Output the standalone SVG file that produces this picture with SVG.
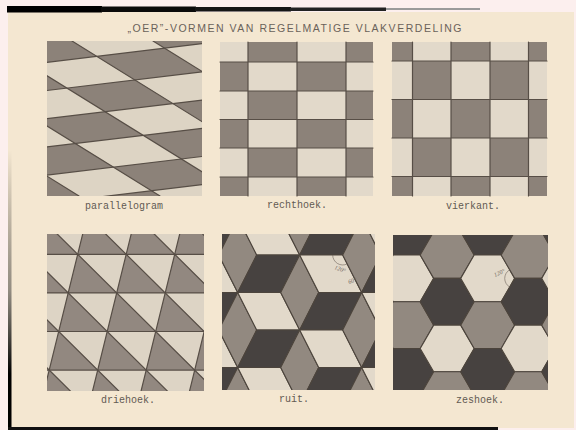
<svg xmlns="http://www.w3.org/2000/svg" width="576" height="430" viewBox="0 0 576 430">
<defs>
<style>
.lt{fill:#e2d9ca}
.md{fill:#928980}
.dk{fill:#474240}
.ln{stroke:#574e46;stroke-width:1.2;fill:none;stroke-linecap:round}
.edges{stroke:#4c443c;stroke-width:1.1;stroke-linejoin:round}
.lbl{font-family:"Liberation Mono","DejaVu Sans Mono",monospace;font-size:10px;fill:#625a53;text-anchor:middle}
.ttl{font-family:"Liberation Sans",Arial,sans-serif;font-size:10.5px;fill:#6a625a;text-anchor:middle}
.note{font-family:"Liberation Serif",serif;font-style:italic;font-size:6px;fill:#6d635a}
.arc{fill:none;stroke:#6d635a;stroke-width:0.6}
</style>
<linearGradient id="lg" x1="0" y1="0" x2="0" y2="1">
<stop offset="0" stop-color="#000" stop-opacity="0"/>
<stop offset="0.5" stop-color="#333" stop-opacity="0.5"/>
<stop offset="0.8" stop-color="#000" stop-opacity="1"/>
</linearGradient>
<clipPath id="c1"><rect x="47" y="41" width="155" height="155"/></clipPath>
<clipPath id="c4"><rect x="47" y="234" width="157" height="157"/></clipPath>
<clipPath id="c5"><rect x="222" y="234" width="153" height="156"/></clipPath>
<clipPath id="c6"><rect x="393" y="235" width="155" height="155"/></clipPath>
<pattern id="p1" patternUnits="userSpaceOnUse" width="2" height="2" patternTransform="matrix(67.86 -8.14 38.1 23.62 -9.24 40.85)">
<rect width="2" height="2" fill="#ddd4c4"/>
<rect width="1" height="1" fill="#8c8279"/>
<rect x="1" y="1" width="1" height="1" fill="#8c8279"/>
</pattern>
<g id="cube">
<polygon class="dk" points="-21.5,-37.5 21.5,-37.5 2.5,0 -40.5,0"/>
<polygon class="lt" points="-40.5,0 2.5,0 21.5,37.5 -21.5,37.5"/>
<polygon class="md" points="21.5,-37.5 40.5,0 21.5,37.5 2.5,0"/>
</g>
<polygon id="hx" points="-27,0 -13.5,-23.35 13.5,-23.35 27,0 13.5,23.35 -13.5,23.35"/>
</defs>

<rect width="576" height="430" fill="#fcefee"/>
<rect x="8" y="12" width="566" height="416" fill="#f4e7d1"/>
<rect x="7" y="6" width="95" height="6.5" fill="#000"/>
<rect x="101" y="6.5" width="95" height="5.5" fill="#0a0a0a"/>
<rect x="195" y="7" width="96" height="4.5" fill="#151515"/>
<rect x="290" y="7.5" width="96" height="3.5" fill="#222"/>
<rect x="386" y="8" width="94" height="2" fill="#9a9a9a"/>
<rect x="8" y="150" width="3.5" height="280" fill="url(#lg)"/>
<rect x="8" y="427" width="490" height="3" fill="#111"/>

<text class="ttl" x="294.5" y="32" textLength="334" lengthAdjust="spacing">„OER”-VORMEN VAN REGELMATIGE VLAKVERDELING</text>

<g id="parallelogram">
<g clip-path="url(#c1)">
<rect x="47" y="41" width="155" height="155" fill="url(#p1)"/>
<g class="ln">
<line x1="40" y1="63.14" x2="210" y2="42.74"/>
<line x1="40" y1="91.34" x2="210" y2="70.94"/>
<line x1="40" y1="119.54" x2="210" y2="99.14"/>
<line x1="40" y1="147.74" x2="210" y2="127.34"/>
<line x1="40" y1="175.94" x2="210" y2="155.54"/>
<line x1="40" y1="204.14" x2="210" y2="183.74"/>
<line x1="-171" y1="41" x2="79" y2="196"/>
<line x1="-90" y1="41" x2="160" y2="196"/>
<line x1="-9" y1="41" x2="241" y2="196"/>
<line x1="72" y1="41" x2="322" y2="196"/>
<line x1="153" y1="41" x2="403" y2="196"/>
</g>
</g>
<text class="lbl" x="124" y="209">parallelogram</text>
</g>

<g id="rechthoek">
<rect class="lt" x="220" y="42" width="153" height="154"/>
<g fill="#8c8279">
<rect x="248" y="42" width="49" height="20"/><rect x="346" y="42" width="27" height="20"/>
<rect x="220" y="62" width="28" height="29"/><rect x="297" y="62" width="49" height="29"/>
<rect x="248" y="91" width="49" height="28.5"/><rect x="346" y="91" width="27" height="28.5"/>
<rect x="220" y="119.5" width="28" height="28.5"/><rect x="297" y="119.5" width="49" height="28.5"/>
<rect x="248" y="148" width="49" height="29"/><rect x="346" y="148" width="27" height="29"/>
<rect x="220" y="177" width="28" height="19"/><rect x="297" y="177" width="49" height="19"/>
</g>
<g class="ln">
<line x1="248" y1="42" x2="248" y2="196"/><line x1="297" y1="42" x2="297" y2="196"/><line x1="346" y1="42" x2="346" y2="196"/>
<line x1="220" y1="62" x2="373" y2="62"/><line x1="220" y1="91" x2="373" y2="91"/><line x1="220" y1="119.5" x2="373" y2="119.5"/>
<line x1="220" y1="148" x2="373" y2="148"/><line x1="220" y1="177" x2="373" y2="177"/>
</g>
<text class="lbl" x="297" y="208">rechthoek.</text>
</g>

<g id="vierkant">
<rect class="lt" x="392" y="42" width="155" height="154"/>
<g fill="#8c8279">
<rect x="392" y="42" width="20.5" height="19"/><rect x="451" y="42" width="39" height="19"/><rect x="528.5" y="42" width="18.5" height="19"/>
<rect x="412.5" y="61" width="38.5" height="38.5"/><rect x="490" y="61" width="38.5" height="38.5"/>
<rect x="392" y="99.5" width="20.5" height="38.5"/><rect x="451" y="99.5" width="39" height="38.5"/><rect x="528.5" y="99.5" width="18.5" height="38.5"/>
<rect x="412.5" y="138" width="38.5" height="38.5"/><rect x="490" y="138" width="38.5" height="38.5"/>
<rect x="392" y="176.5" width="20.5" height="19.5"/><rect x="451" y="176.5" width="39" height="19.5"/><rect x="528.5" y="176.5" width="18.5" height="19.5"/>
</g>
<g class="ln">
<line x1="412.5" y1="42" x2="412.5" y2="196"/><line x1="451" y1="42" x2="451" y2="196"/><line x1="490" y1="42" x2="490" y2="196"/><line x1="528.5" y1="42" x2="528.5" y2="196"/>
<line x1="392" y1="61" x2="547" y2="61"/><line x1="392" y1="99.5" x2="547" y2="99.5"/><line x1="392" y1="138" x2="547" y2="138"/><line x1="392" y1="176.5" x2="547" y2="176.5"/>
</g>
<text class="lbl" x="473" y="209">vierkant.</text>
</g>

<g id="driehoek">
<g clip-path="url(#c4)">
<rect x="47" y="234" width="157" height="157" fill="#ddd4c5"/>
<g fill="#928880">
<polygon points="38.7,215.7 29.2,254.3 77.7,254.3"/>
<polygon points="87.2,215.7 77.7,254.3 126.2,254.3"/>
<polygon points="135.7,215.7 126.2,254.3 174.7,254.3"/>
<polygon points="184.2,215.7 174.7,254.3 223.2,254.3"/>
<polygon points="29.2,254.3 19.7,292.9 68.2,292.9"/>
<polygon points="77.7,254.3 68.2,292.9 116.7,292.9"/>
<polygon points="126.2,254.3 116.7,292.9 165.2,292.9"/>
<polygon points="174.7,254.3 165.2,292.9 213.7,292.9"/>
<polygon points="19.7,292.9 10.2,331.5 58.7,331.5"/>
<polygon points="68.2,292.9 58.7,331.5 107.2,331.5"/>
<polygon points="116.7,292.9 107.2,331.5 155.7,331.5"/>
<polygon points="165.2,292.9 155.7,331.5 204.2,331.5"/>
<polygon points="213.7,292.9 204.2,331.5 252.7,331.5"/>
<polygon points="10.2,331.5 0.7,370.1 49.2,370.1"/>
<polygon points="58.7,331.5 49.2,370.1 97.7,370.1"/>
<polygon points="107.2,331.5 97.7,370.1 146.2,370.1"/>
<polygon points="155.7,331.5 146.2,370.1 194.7,370.1"/>
<polygon points="204.2,331.5 194.7,370.1 243.2,370.1"/>
<polygon points="0.7,370.1 -8.8,408.7 39.7,408.7"/>
<polygon points="49.2,370.1 39.7,408.7 88.2,408.7"/>
<polygon points="97.7,370.1 88.2,408.7 136.7,408.7"/>
<polygon points="146.2,370.1 136.7,408.7 185.2,408.7"/>
<polygon points="194.7,370.1 185.2,408.7 233.7,408.7"/>
</g>
<g class="ln">
<line x1="40" y1="254.3" x2="210" y2="254.3"/><line x1="40" y1="292.9" x2="210" y2="292.9"/>
<line x1="40" y1="331.5" x2="210" y2="331.5"/><line x1="40" y1="370.1" x2="210" y2="370.1"/>
<line x1="87.2" y1="215.7" x2="39.7" y2="408.7"/><line x1="135.7" y1="215.7" x2="88.2" y2="408.7"/>
<line x1="184.2" y1="215.7" x2="136.7" y2="408.7"/><line x1="232.7" y1="215.7" x2="185.2" y2="408.7"/>
<line x1="-106.8" y1="215.7" x2="88.2" y2="408.7"/><line x1="-58.3" y1="215.7" x2="136.7" y2="408.7"/>
<line x1="-9.8" y1="215.7" x2="185.2" y2="408.7"/><line x1="38.7" y1="215.7" x2="233.7" y2="408.7"/>
<line x1="87.2" y1="215.7" x2="282.2" y2="408.7"/><line x1="135.7" y1="215.7" x2="330.7" y2="408.7"/>
<line x1="184.2" y1="215.7" x2="379.2" y2="408.7"/>
</g>
</g>
<text class="lbl" x="128" y="403">driehoek.</text>
</g>

<g id="ruit">
<g clip-path="url(#c5)" class="edges">
<use href="#cube" x="216.2" y="255"/><use href="#cube" x="216.2" y="330"/><use href="#cube" x="216.2" y="405"/>
<use href="#cube" x="278.2" y="217.5"/><use href="#cube" x="278.2" y="292.5"/><use href="#cube" x="278.2" y="367.5"/>
<use href="#cube" x="340.2" y="255"/><use href="#cube" x="340.2" y="330"/><use href="#cube" x="340.2" y="405"/>
<use href="#cube" x="402.2" y="217.5"/><use href="#cube" x="402.2" y="292.5"/><use href="#cube" x="402.2" y="367.5"/>
</g>
<path class="arc" d="M332.7,255 A10,10 0 0 0 347.2,263.9"/>
<text class="note" x="334" y="269" transform="rotate(20 334 269)">120°</text>
<text class="note" x="349" y="284" transform="rotate(-20 349 284)">60°</text>
<text class="lbl" x="294" y="402">ruit.</text>
</g>

<g id="zeshoek">
<g clip-path="url(#c6)" class="edges">
<use href="#hx" class="md" x="366.2" y="255.05"/><use href="#hx" class="dk" x="366.2" y="301.75"/><use href="#hx" class="lt" x="366.2" y="348.45"/><use href="#hx" class="md" x="366.2" y="395.15"/>
<use href="#hx" class="dk" x="406.7" y="231.7"/><use href="#hx" class="lt" x="406.7" y="278.4"/><use href="#hx" class="md" x="406.7" y="325.1"/><use href="#hx" class="dk" x="406.7" y="371.8"/>
<use href="#hx" class="md" x="447.2" y="255.05"/><use href="#hx" class="dk" x="447.2" y="301.75"/><use href="#hx" class="lt" x="447.2" y="348.45"/><use href="#hx" class="md" x="447.2" y="395.15"/>
<use href="#hx" class="dk" x="487.7" y="231.7"/><use href="#hx" class="lt" x="487.7" y="278.4"/><use href="#hx" class="md" x="487.7" y="325.1"/><use href="#hx" class="dk" x="487.7" y="371.8"/>
<use href="#hx" class="md" x="528.2" y="255.05"/><use href="#hx" class="dk" x="528.2" y="301.75"/><use href="#hx" class="lt" x="528.2" y="348.45"/><use href="#hx" class="md" x="528.2" y="395.15"/>
<use href="#hx" class="dk" x="568.7" y="231.7"/><use href="#hx" class="lt" x="568.7" y="278.4"/><use href="#hx" class="md" x="568.7" y="325.1"/><use href="#hx" class="dk" x="568.7" y="371.8"/>
</g>
<path class="arc" d="M509.7,269.75 A10,10 0 0 0 509.7,287.05"/>
<text class="note" x="495" y="277" transform="rotate(-25 495 277)">120°</text>
<text class="lbl" x="480" y="403">zeshoek.</text>
</g>
</svg>
